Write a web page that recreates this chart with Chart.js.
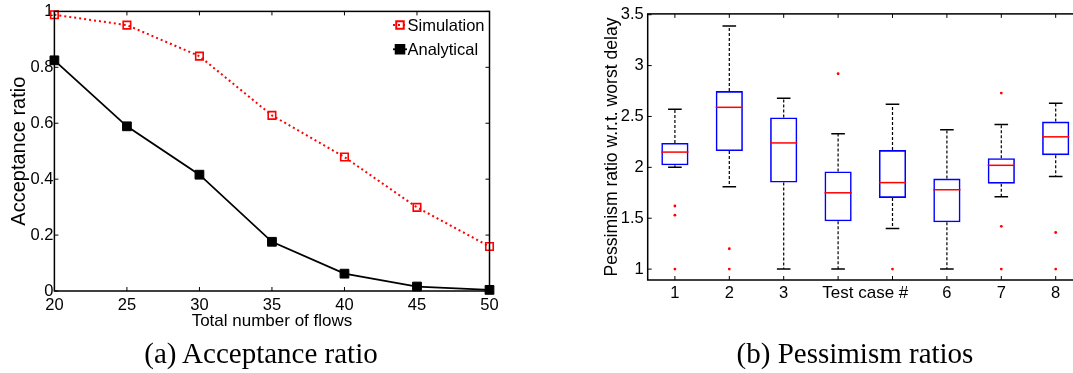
<!DOCTYPE html>
<html>
<head>
<meta charset="utf-8">
<script src="https://cdn.jsdelivr.net/npm/chart.js@4"></script>
<style>
  html, body { margin: 0; padding: 0; background: #fff; }
  body { width: 1073px; height: 373px; position: relative; overflow: hidden; }
  #leftChart { position: absolute; left: 0; top: 0; }
  #rightChart { position: absolute; left: 540px; top: 0; }
  .caption {
    position: absolute; top: 339px; width: 400px; text-align: center;
    font-family: "Liberation Serif", "Times New Roman", serif; font-size: 29px; line-height: 29px; color: #000;
  }
</style>
</head>
<body>
<canvas id="leftChart" width="540" height="340"></canvas>
<canvas id="rightChart" width="560" height="340"></canvas>
<div class="caption" style="left: 61px;">(a) Acceptance ratio</div>
<div class="caption" style="left: 655px;">(b) Pessimism ratios</div>
<script>
// (a) acceptance ratio vs number of flows
const flows = [20, 25, 30, 35, 40, 45, 50];
const simulation = [0.988, 0.951, 0.840, 0.628, 0.479, 0.299, 0.159];
const analytical = [0.825, 0.589, 0.416, 0.176, 0.062, 0.016, 0.004];

// (b) pessimism ratio box plots, one per test case
const testCases = [1, 2, 3, 4, 5, 6, 7, 8];
const caseTickLabels = ['1', '2', '3', '', '', '6', '7', '8'];
const whiskerLow  = [2.00, 1.81, 1.00, 1.00, 1.40, 1.00, 1.71, 1.91];
const quartile1   = [2.02, 2.16, 1.85, 1.47, 1.70, 1.46, 1.84, 2.12];
const medians     = [2.15, 2.59, 2.24, 1.75, 1.85, 1.78, 2.02, 2.30];
const quartile3   = [2.24, 2.75, 2.49, 1.96, 2.17, 1.89, 2.09, 2.45];
const whiskerHigh = [2.57, 3.39, 2.68, 2.33, 2.62, 2.37, 2.42, 2.63];
const outliers = [[1.62, 1.53, 1.0], [1.20, 1.0], [], [2.92], [1.0], [], [2.73, 1.42, 1.0], [1.36, 1.0]];

Chart.defaults.font.family = '"Liberation Sans", Arial, Helvetica, sans-serif';
Chart.defaults.color = '#000';

// plain number labels like matlab: 1, 0.8, 1.5 ...
const plainNumber = v => String(Math.round(v * 100) / 100);

// matlab style box round the axes, ticks pointing inwards
const matlabAxes = {
  id: 'matlabAxes',
  afterDatasetsDraw(chart) {
    const {ctx, chartArea: a, scales: {x, y}} = chart;
    const len = 4;
    ctx.save();
    ctx.strokeStyle = '#000';
    ctx.lineWidth = 1;
    ctx.setLineDash([]);
    x.ticks.forEach(t => {
      const px = x.getPixelForValue(t.value);
      ctx.beginPath();
      ctx.moveTo(px, a.bottom); ctx.lineTo(px, a.bottom - len);
      ctx.moveTo(px, a.top); ctx.lineTo(px, a.top + len);
      ctx.stroke();
    });
    y.ticks.forEach(t => {
      const py = y.getPixelForValue(t.value);
      ctx.beginPath();
      ctx.moveTo(a.left, py); ctx.lineTo(a.left + len, py);
      ctx.moveTo(a.right, py); ctx.lineTo(a.right - len, py);
      ctx.stroke();
    });
    ctx.lineWidth = 1.5;
    ctx.strokeRect(a.left, a.top, a.right - a.left, a.bottom - a.top);
    ctx.restore();
  }
};

// legend drawn inside the plot, top right
const insideLegend = {
  id: 'insideLegend',
  afterDraw(chart) {
    const {ctx, chartArea: a} = chart;
    ctx.save();
    ctx.font = '16.5px "Liberation Sans", Arial, sans-serif';
    ctx.textBaseline = 'middle';
    ctx.textAlign = 'left';
    chart.data.datasets.forEach((ds, i) => {
      const cx = a.right - 89.5;
      const cy = a.top + 13.6 + i * 24.3;
      ctx.strokeStyle = ds.borderColor;
      ctx.lineWidth = ds.borderWidth;
      ctx.setLineDash(ds.borderDash || []);
      ctx.beginPath();
      ctx.moveTo(cx - 7, cy); ctx.lineTo(cx + 7, cy);
      ctx.stroke();
      ctx.setLineDash([]);
      ctx.fillStyle = ds.pointBackgroundColor;
      ctx.strokeStyle = ds.pointBorderColor;
      Chart.helpers.drawPoint(ctx, {pointStyle: 'rect', radius: ds.pointRadius, borderWidth: ds.pointBorderWidth, rotation: 0}, cx, cy);
      ctx.fillStyle = '#000';
      ctx.fillText(ds.label, cx + 7.5, cy + 1);
    });
    ctx.restore();
  }
};

new Chart('leftChart', {
  type: 'line',
  data: {
    datasets: [{
      label: 'Simulation',
      data: flows.map((f, i) => ({x: f, y: simulation[i]})),
      borderColor: '#ff0000',
      borderWidth: 2,
      borderDash: [2, 3],
      pointStyle: 'rect',
      pointRadius: 5.3,
      pointBorderWidth: 1.6,
      pointBorderColor: '#ff0000',
      pointBackgroundColor: 'rgba(255,255,255,0)',
      clip: false
    }, {
      label: 'Analytical',
      data: flows.map((f, i) => ({x: f, y: analytical[i]})),
      borderColor: '#000000',
      borderWidth: 1.8,
      pointStyle: 'rect',
      pointRadius: 6.2,
      pointBorderWidth: 1,
      pointBorderColor: '#000000',
      pointBackgroundColor: '#000000',
      clip: false
    }]
  },
  options: {
    responsive: false,
    animation: false,
    layout: {padding: {left: 0, top: 11.4, right: 50.5, bottom: 0}},
    plugins: {legend: {display: false}, tooltip: {enabled: false}},
    scales: {
      x: {
        type: 'linear', min: 20, max: 50,
        grid: {display: false, drawTicks: false},
        border: {display: false},
        ticks: {stepSize: 5, padding: 4.5, autoSkip: false, maxRotation: 0, font: {size: 16.5}, callback: plainNumber},
        title: {display: true, text: 'Total number of flows', font: {size: 17, lineHeight: 1.2}, padding: {top: 0, bottom: 8.5}},
        afterFit(scale) { scale.height = 49; }
      },
      y: {
        min: 0, max: 1,
        grid: {display: false, drawTicks: false},
        border: {display: false},
        ticks: {stepSize: 0.2, padding: 1, font: {size: 16.5}, callback: plainNumber},
        title: {display: true, text: 'Acceptance ratio', font: {size: 20, lineHeight: 1.2}, padding: {top: 7, bottom: 0}},
        afterFit(scale) { scale.width = 54.4; }
      }
    }
  },
  plugins: [matlabAxes, insideLegend]
});

// whiskers, caps and medians of the box plot
const boxParts = {
  id: 'boxParts',
  afterDatasetsDraw(chart) {
    const {ctx, scales: {x, y}} = chart;
    const bars = chart.getDatasetMeta(0).data;
    ctx.save();
    testCases.forEach((c, i) => {
      const cx = x.getPixelForValue(c);
      const half = bars[i].width / 2;
      const capHalf = half / 2;
      ctx.strokeStyle = '#000';
      ctx.lineWidth = 1.2;
      ctx.setLineDash([3, 2]);
      ctx.beginPath();
      ctx.moveTo(cx, y.getPixelForValue(quartile3[i])); ctx.lineTo(cx, y.getPixelForValue(whiskerHigh[i]));
      ctx.moveTo(cx, y.getPixelForValue(quartile1[i])); ctx.lineTo(cx, y.getPixelForValue(whiskerLow[i]));
      ctx.stroke();
      ctx.setLineDash([]);
      ctx.lineWidth = 1.5;
      ctx.beginPath();
      ctx.moveTo(cx - capHalf, y.getPixelForValue(whiskerHigh[i])); ctx.lineTo(cx + capHalf, y.getPixelForValue(whiskerHigh[i]));
      ctx.moveTo(cx - capHalf, y.getPixelForValue(whiskerLow[i])); ctx.lineTo(cx + capHalf, y.getPixelForValue(whiskerLow[i]));
      ctx.stroke();
      ctx.strokeStyle = '#ff0000';
      ctx.beginPath();
      ctx.moveTo(cx - half, y.getPixelForValue(medians[i])); ctx.lineTo(cx + half, y.getPixelForValue(medians[i]));
      ctx.stroke();
    });
    ctx.restore();
  }
};

// x axis label sits on the tick label row, in place of 4 and 5
const caseTitle = {
  id: 'caseTitle',
  afterDraw(chart) {
    const {ctx, scales: {x}} = chart;
    const hidden = testCases.filter((c, i) => caseTickLabels[i] === '');
    const mid = (hidden[0] + hidden[hidden.length - 1]) / 2;
    ctx.save();
    ctx.font = '17px "Liberation Sans", Arial, sans-serif';
    ctx.fillStyle = '#000';
    ctx.textAlign = 'center';
    ctx.textBaseline = 'middle';
    ctx.fillText('Test case #', x.getPixelForValue(mid), x.top + 13.3);
    ctx.restore();
  }
};

new Chart('rightChart', {
  type: 'bar',
  data: {
    datasets: [{
      type: 'bar',
      data: testCases.map((c, i) => ({x: c, y: [quartile1[i], quartile3[i]]})),
      backgroundColor: 'rgba(255,255,255,0)',
      borderColor: '#0000ff',
      borderWidth: 1.6,
      borderSkipped: false,
      categoryPercentage: 1,
      barPercentage: 0.5
    }, {
      type: 'scatter',
      data: outliers.flatMap((vals, i) => vals.map(v => ({x: testCases[i], y: v}))),
      pointStyle: 'circle',
      pointRadius: 1.4,
      pointBorderWidth: 0,
      backgroundColor: '#ff0000',
      borderColor: '#ff0000'
    }]
  },
  options: {
    responsive: false,
    animation: false,
    layout: {padding: {left: 0, top: 11, right: 17.1, bottom: 0}},
    plugins: {legend: {display: false}, tooltip: {enabled: false}},
    scales: {
      x: {
        type: 'linear', min: 0.5, max: 8.5, offset: false,
        grid: {display: false, drawTicks: false},
        border: {display: false},
        afterBuildTicks(scale) { scale.ticks = testCases.map(v => ({value: v})); },
        ticks: {
          padding: 3.4, autoSkip: false, maxRotation: 0,
          font: {size: 16.5},
          callback: value => {
            const k = testCases.indexOf(value);
            return k < 0 ? '' : caseTickLabels[k];
          }
        },
        afterFit(scale) { scale.height = 60; }
      },
      y: {
        min: 0.893, max: 3.508,
        grid: {display: false, drawTicks: false},
        border: {display: false},
        ticks: {stepSize: 0.5, includeBounds: false, padding: 4, font: {size: 16.5}, callback: plainNumber},
        title: {display: true, text: 'Pessimism ratio w.r.t. worst delay', font: {size: 17.6, lineHeight: 1.2}, padding: {top: 61.4, bottom: 0}},
        afterFit(scale) { scale.width = 107.7; }
      }
    }
  },
  plugins: [boxParts, matlabAxes, caseTitle]
});
</script>
</body>
</html>
